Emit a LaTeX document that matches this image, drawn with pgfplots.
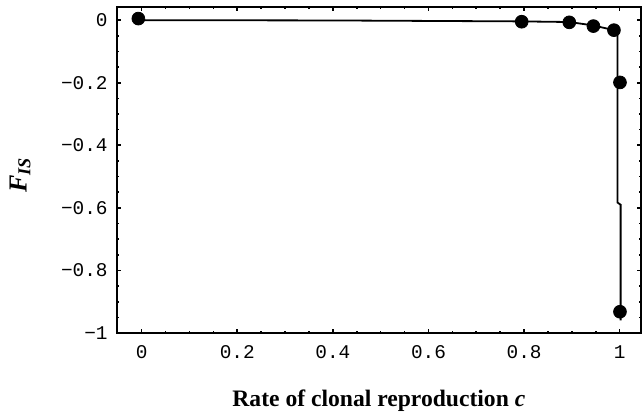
\documentclass[border=0pt]{standalone}
\usepackage{fontspec}
\setmainfont{Liberation Serif}
\setmonofont{Liberation Mono}
\usepackage{pgfplots}
\pgfplotsset{compat=1.18}

\begin{document}
\begin{tikzpicture}
\begin{axis}[
  scale only axis,
  width=262.15pt, height=163.15pt,
  xmin=-0.0523, xmax=1.0446,
  ymin=-1, ymax=0.043,
  axis line style={line width=1pt},
  tick style={line width=0.8pt, black},
  tick align=inside,
  major tick length=2pt,
  minor tick length=1pt,
  xtick={0,0.2,0.4,0.6,0.8,1},
  xticklabels={0,0.2,0.4,0.6,0.8,1},
  ytick={-1,-0.8,-0.6,-0.4,-0.2,0},
  yticklabels={−1,−0.8,−0.6,−0.4,−0.2,0},
  minor tick num=3,
  xticklabel style={font=\fontsize{9.7}{11}\ttfamily, yshift=-2.6pt},
  yticklabel style={font=\fontsize{9.7}{11}\ttfamily, xshift=-1pt},
  xlabel={\bfseries Rate of clonal reproduction \textit{c}},
  ylabel={\bfseries\itshape F\textsubscript{IS}},
  every axis x label/.style={at={(axis description cs:0.5,-0.2259)}, anchor=base, font=\fontsize{11.8}{14}\selectfont},
  every axis y label/.style={at={(axis description cs:-0.1844,0.485)}, rotate=90, anchor=center, font=\fontsize{13}{15}\selectfont},
  clip=false,
]
\addplot[black, line width=0.9pt] coordinates {
  (0,0) (0.4,-0.001) (0.795,-0.004) (0.8946,-0.006) (0.945,-0.017)
  (0.988,-0.032) (0.9954,-0.04) (0.9954,-0.583) (1.002,-0.59) (1.002,-0.96)
};
\addplot[only marks, mark=*, mark size=3.2pt, black] coordinates {
  (-0.007,0.005) (0.795,-0.005) (0.8946,-0.007) (0.945,-0.019)
  (0.988,-0.032) (1.0006,-0.199) (1.0006,-0.932)
};
\end{axis}
\pgfresetboundingbox
\path[use as bounding box] ([shift={(-58.35pt,-41.5pt)}]current axis.south west) rectangle ([shift={(0.5pt,3.35pt)}]current axis.north east);
\end{tikzpicture}
\end{document}
